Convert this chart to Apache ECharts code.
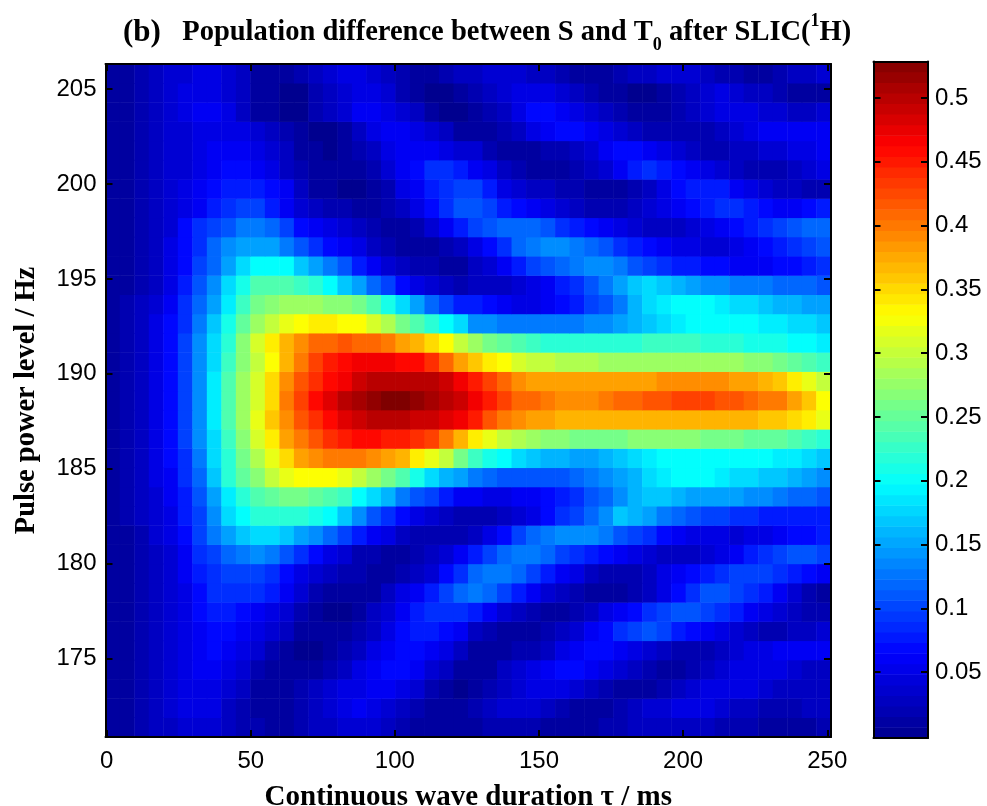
<!DOCTYPE html>
<html><head><meta charset="utf-8">
<style>html,body{margin:0;padding:0;background:#fff}#c{width:987px;height:806px}</style>
<script src="https://cdn.jsdelivr.net/npm/echarts@6/dist/echarts.min.js"></script>
</head><body><div id="c"></div>
<script>
// Cell centres (ms) and pulse levels (Hz)
const tauCells=[2,7,12,17,22,27,32,37,42,47,52,57,62,67,72,77,82,87,92,97,102,107,112,117,122,127,132,137,142,147,152,157,162,167,172,177,182,187,192,197,202,207,212,217,222,227,232,237,242,247];
const hzCells=[171.4,172.4,173.4,174.4,175.4,176.4,177.4,178.4,179.5,180.5,181.5,182.5,183.5,184.5,185.5,186.5,187.5,188.6,189.6,190.6,191.6,192.6,193.6,194.6,195.6,196.6,197.7,198.7,199.7,200.7,201.7,202.7,203.7,204.7,205.8];
// Population difference in hundredths, one list per pulse level
const r00=[1,1,2,3,3,4,4,4,3,2,2,1,1,2,3,3,4,4,4,3,2,1,1,1,1,1,2,2,2,2,1,1,1,1,2,2,3,3,3,3,3,3,2,2,2,1,1,1,1,2];
const r01=[1,1,2,3,4,5,5,5,3,2,1,1,1,2,3,4,5,6,5,4,3,2,1,1,1,2,3,4,4,4,3,2,1,1,1,2,3,4,4,5,5,5,4,3,3,2,2,2,3,3];
const r02=[1,1,2,3,4,5,5,5,4,3,1,1,1,2,3,4,5,5,6,6,5,4,2,1,0,1,2,3,4,5,5,5,4,3,2,1,1,1,2,3,4,5,5,5,5,4,3,3,3,3];
const r03=[1,1,2,3,4,5,6,6,5,4,2,1,1,1,1,2,3,5,6,7,7,6,4,3,1,1,1,3,4,5,6,7,7,6,5,4,3,2,1,1,2,3,4,5,5,5,5,4,3,3];
const r04=[1,1,2,3,4,5,6,7,6,5,4,2,1,0,0,1,2,3,5,6,7,7,6,5,3,1,1,1,2,2,3,5,6,7,7,6,5,4,3,2,2,2,3,4,5,5,6,6,6,6];
const r05=[1,1,2,3,4,5,6,7,7,6,5,4,3,1,1,1,1,2,3,5,7,8,8,7,6,3,2,1,1,1,2,3,4,6,7,9,10,11,10,8,7,6,5,4,3,2,2,3,3,4];
const r06=[1,1,2,3,4,5,7,8,8,7,6,5,4,2,1,0,0,1,3,4,6,8,9,9,9,8,6,4,3,2,1,1,2,3,5,6,7,9,10,11,11,10,9,8,6,5,4,3,2,2];
const r07=[1,1,2,3,4,5,7,9,9,9,9,8,6,4,2,1,1,1,1,3,5,6,8,10,12,13,12,10,8,6,4,3,2,1,1,1,2,3,5,7,9,11,11,10,9,8,6,4,2,1];
const r08=[1,1,2,3,4,6,8,9,10,10,10,9,7,5,4,3,2,2,1,1,2,3,4,7,9,12,13,13,12,10,8,6,5,3,2,2,2,3,5,6,7,8,9,10,10,10,9,8,7,6];
const r09=[1,1,2,3,4,6,9,10,12,13,14,13,11,9,7,5,4,2,2,1,1,2,3,4,6,8,10,12,13,13,12,10,9,8,7,6,5,4,3,3,3,4,5,6,8,9,10,11,11,10];
const r10=[1,1,2,4,5,7,10,13,15,17,18,18,17,15,14,12,10,8,6,5,3,2,2,2,2,3,5,7,10,12,13,14,14,14,13,11,10,9,7,6,5,5,5,4,5,5,6,7,7,8];
const r11=[1,2,3,4,5,8,10,14,18,20,22,22,22,22,21,20,17,14,11,9,7,5,4,3,2,2,2,3,4,5,7,9,10,12,14,17,16,15,13,12,11,10,10,9,9,8,8,8,8,8];
const r12=[1,2,3,4,6,8,11,15,19,22,24,25,26,26,25,24,23,20,18,16,13,11,10,8,6,6,5,5,6,6,7,8,9,11,12,14,16,17,17,16,15,15,15,15,14,14,13,12,12,11];
const r13=[1,2,3,5,6,9,12,17,22,25,27,30,32,33,33,33,32,30,28,26,24,21,18,16,15,13,12,11,11,11,11,11,12,13,14,15,16,18,19,20,20,20,19,18,18,17,17,16,15,14];
const r14=[1,2,3,5,7,9,13,18,22,26,29,32,35,38,39,40,40,40,39,38,37,34,32,30,26,23,21,20,18,17,16,16,15,15,16,17,18,19,20,20,20,20,20,20,20,20,19,19,18,17];
const r15=[1,2,3,5,7,10,14,18,23,27,31,34,38,40,42,44,45,46,46,45,45,44,43,40,37,34,32,30,29,28,27,27,26,26,26,26,27,27,27,27,27,26,26,26,25,25,25,24,23,22];
const r16=[1,2,3,5,7,10,14,19,24,28,32,36,39,42,44,46,48,49,50,50,50,49,49,48,47,45,42,40,39,38,38,37,37,37,37,37,37,37,37,37,37,37,37,37,37,36,36,35,34,32];
const r17=[1,2,3,5,7,10,14,19,24,28,31,35,40,43,46,48,50,51,52,53,53,52,51,50,49,47,45,43,41,41,40,39,39,39,40,41,41,42,42,43,43,43,42,42,41,40,40,38,36,33];
const r18=[1,2,3,5,7,10,14,19,24,28,31,35,39,42,44,46,47,49,50,50,50,50,50,49,47,45,43,41,39,38,38,38,38,38,38,38,38,38,39,39,39,39,39,38,38,37,36,34,32,30];
const r19=[1,2,3,5,7,10,14,18,23,27,30,33,37,40,43,45,46,47,47,47,46,46,44,41,38,36,34,33,31,30,30,29,29,29,28,28,28,28,28,28,28,28,28,28,27,27,26,25,24,23];
const r20=[1,2,3,5,7,10,14,18,22,27,31,34,37,39,41,41,42,41,41,40,38,37,35,33,30,28,26,25,24,23,22,22,22,22,22,22,22,23,23,23,23,22,22,22,21,21,21,20,20,19];
const r21=[1,2,3,5,7,9,13,17,21,25,28,30,32,33,34,34,33,33,31,29,26,24,22,20,18,14,14,13,13,13,13,13,13,14,14,15,16,17,18,19,20,20,20,20,20,19,19,18,18,17];
const r22=[1,2,3,4,6,9,12,15,19,23,26,27,28,28,28,27,27,26,24,21,18,15,12,10,8,8,7,6,5,5,6,7,8,10,11,13,16,18,19,20,20,20,19,18,18,17,16,16,15,15];
const r23=[1,1,2,3,5,8,11,14,18,21,24,24,24,23,22,20,17,15,12,10,7,5,4,3,2,3,3,3,4,5,6,8,9,11,13,15,17,18,17,16,15,14,14,13,13,13,12,12,12,11];
const r24=[1,1,2,3,5,7,10,12,15,18,20,20,20,17,15,13,11,8,6,4,3,2,2,1,1,3,4,6,8,10,11,12,13,14,14,13,11,10,9,8,8,7,7,6,6,6,7,7,8,9];
const r25=[1,1,2,3,5,7,9,12,14,15,15,15,13,11,9,7,6,5,3,2,1,1,1,2,3,5,7,9,12,13,14,14,13,12,11,9,8,7,6,5,5,4,4,5,6,7,8,9,10,11];
const r26=[1,1,2,3,4,7,9,10,11,13,13,12,10,7,6,5,4,3,2,1,1,2,4,6,8,10,11,12,12,12,11,9,8,7,6,5,4,3,3,3,4,5,6,7,8,9,10,11,12,12];
const r27=[1,1,2,3,4,5,6,8,9,10,10,8,6,4,3,2,2,1,1,2,3,5,7,9,11,11,10,8,7,6,5,4,3,2,2,2,3,4,5,6,7,8,9,9,8,7,6,6,7,8];
const r28=[1,1,2,3,4,5,6,7,8,8,8,7,6,3,1,1,0,0,1,2,5,6,8,9,10,10,8,5,4,3,3,2,2,1,1,1,2,3,5,7,8,8,8,6,5,4,3,3,2,2];
const r29=[1,1,2,3,4,4,5,6,7,7,6,5,3,2,1,1,1,1,2,4,6,7,9,9,8,6,5,3,2,1,1,1,2,3,4,6,8,9,8,7,6,5,4,3,2,2,2,3,4,5];
const r30=[1,1,2,3,4,4,5,6,6,6,5,4,3,1,1,0,1,2,3,5,6,6,6,5,4,4,2,1,1,1,2,2,3,4,6,7,7,6,5,4,3,2,2,3,3,4,4,5,5,6];
const r31=[1,1,2,3,4,4,5,5,5,5,4,3,2,1,0,0,1,3,5,6,6,5,4,3,1,1,1,2,3,5,6,7,7,6,5,4,3,2,2,2,2,2,3,4,5,6,6,6,6,6];
const r32=[1,1,2,3,4,5,6,6,5,3,1,1,0,0,2,3,4,6,6,5,4,3,1,0,0,1,2,3,5,7,7,6,5,4,3,2,1,1,1,2,3,4,5,5,5,4,4,3,3,4];
const r33=[1,1,2,3,4,5,5,5,4,3,1,1,0,0,2,3,4,5,5,4,2,1,0,0,1,2,3,4,5,5,5,4,3,2,1,1,0,0,1,2,3,4,5,4,3,3,2,1,1,1];
const r34=[1,1,2,3,4,4,5,5,4,3,1,1,1,2,3,4,5,5,4,3,2,1,1,2,3,3,4,4,4,3,3,2,1,1,1,2,3,3,4,4,4,3,2,2,1,1,2,3,3,4];
const rows=[r00,r01,r02,r03,r04,r05,r06,r07,r08,r09,r10,r11,r12,r13,r14,r15,r16,r17,r18,r19,r20,r21,r22,r23,r24,r25,r26,r27,r28,r29,r30,r31,r32,r33,r34];
// Axis ticks
const xTicks=[0,50,100,150,200,250];
const yTicks=[175,180,185,190,195,200,205];
const barTicks=[0.05,0.1,0.15,0.2,0.25,0.3,0.35,0.4,0.45,0.5];
// Colour bar steps
const barLevels=[.004,.012,.021,.029,.037,.045,.054,.062,.070,.079,.087,.095,.103,.112,.120,.128,.136,.145,.153,.161,.170,.178,.186,.194,.203,.211,.219,.227,.236,.244,.252,.260,.269,.277,.285,.294,.302,.310,.318,.327,.335,.343,.351,.360,.368,.376,.384,.393,.401,.409,.418,.426,.434,.442,.451,.459,.467,.475,.484,.492,.500,.508,.517,.525];
const jet=['#00008f','#0000ff','#007fff','#00ffff','#7fff7f','#ffff00','#ff7f00','#ff0000','#7f0000'];

const cells=[];
rows.forEach((r,y)=>r.forEach((v,x)=>cells.push([x,y,v/100])));
const sans='"Liberation Sans",Arial,sans-serif', serif='"Liberation Serif","Times New Roman",serif';
const line={show:true,onZero:false,lineStyle:{color:'#000',width:2}};
const tick=v=>({show:true,inside:true,length:7,customValues:v,lineStyle:{color:'#000',width:2}});
const noLabel={show:false};
const valueAxis=(gridIndex,position,min,max,ticks,label,extra,padding)=>Object.assign({type:'value',gridIndex,position,min,max,z:10,splitLine:{show:false},axisLine:line,axisTick:tick(ticks),
  axisLabel:label?{show:true,customValues:ticks,color:'#000',fontFamily:sans,fontSize:24,margin:label,padding:padding||0}:noLabel},extra||{});
const hidden=(gridIndex,data)=>({type:'category',gridIndex,data,show:false,boundaryGap:true});

const chart=echarts.init(document.getElementById('c'),null,{renderer:'canvas'});
chart.setOption({
  backgroundColor:'#fff',animation:false,
  title:{left:118,top:7,text:'{b|(b)}{t|   Population difference between S and T}{s|0}{t| after SLIC(}{u|1}{t|H)}',
    textStyle:{rich:{
      b:{fontFamily:serif,fontWeight:'bold',fontSize:31,color:'#000',lineHeight:42},
      t:{fontFamily:serif,fontWeight:'bold',fontSize:28.5,color:'#000',lineHeight:42},
      s:{fontFamily:serif,fontWeight:'bold',fontSize:18,color:'#000',verticalAlign:'bottom',lineHeight:24},
      u:{fontFamily:serif,fontWeight:'bold',fontSize:18,color:'#000',verticalAlign:'top',lineHeight:24}
    }}},
  grid:[{left:105.5,top:64,width:725.5,height:673,outerBoundsMode:'none'},{left:873.5,top:61.5,width:54.5,height:676.5,outerBoundsMode:'none'}],
  xAxis:[hidden(0,tauCells),
    valueAxis(0,'bottom',-0.4,251.3,xTicks,12,{name:'Continuous wave duration τ / ms',nameLocation:'middle',nameGap:46,nameTextStyle:{fontFamily:serif,fontWeight:'bold',fontSize:29,color:'#000'}}),
    valueAxis(0,'top',-0.4,251.3,xTicks,0),
    hidden(1,['bar']),
    {type:'value',gridIndex:1,position:'bottom',min:0,max:1,z:10,axisLine:line,axisTick:{show:false},axisLabel:{show:false},splitLine:{show:false}},
    {type:'value',gridIndex:1,position:'top',min:0,max:1,z:10,axisLine:line,axisTick:{show:false},axisLabel:{show:false},splitLine:{show:false}}],
  yAxis:[hidden(0,hzCells),
    valueAxis(0,'left',170.85,206.33,yTicks,9,{name:'Pulse power level / Hz',nameLocation:'middle',nameGap:64,nameTextStyle:{fontFamily:serif,fontWeight:'bold',fontSize:28.5,color:'#000'}},[14,0,0,0]),
    valueAxis(0,'right',170.85,206.33,yTicks,0),
    hidden(1,barLevels),
    valueAxis(1,'left',-0.0016,0.5286,barTicks,0),
    valueAxis(1,'right',-0.0016,0.5286,barTicks,7,null,[14,0,0,0])],
  visualMap:{show:false,min:0,max:0.53,dimension:2,seriesIndex:[0,1],inRange:{color:jet}},
  series:[
    {type:'heatmap',xAxisIndex:0,yAxisIndex:0,data:cells,progressive:0,emphasis:{disabled:true},itemStyle:{borderWidth:0}},
    {type:'heatmap',xAxisIndex:3,yAxisIndex:3,data:barLevels.map((v,i)=>[0,i,v]),progressive:0,emphasis:{disabled:true},itemStyle:{borderWidth:0}}
  ]
});
</script></body></html>
